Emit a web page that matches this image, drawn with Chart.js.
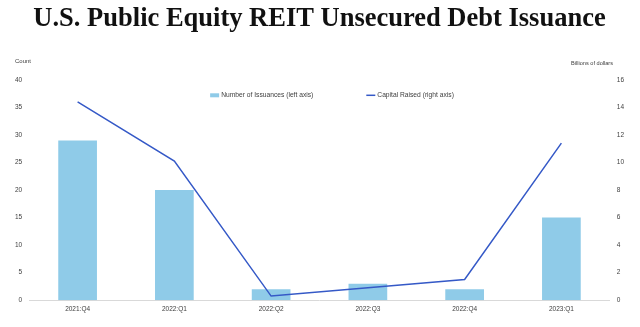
<!DOCTYPE html>
<html>
<head>
<meta charset="utf-8">
<script src="https://cdn.jsdelivr.net/npm/chart.js@4.4.0/dist/chart.umd.min.js"></script>
<style>
  html, body { margin: 0; padding: 0; background: #fff; }
  #wrap { position: relative; width: 640px; height: 327px; }
</style>
</head>
<body>
<div id="wrap"><canvas id="chart" width="640" height="327"></canvas></div>
<script>
// quarterly REIT unsecured debt issuance
const quarters = ['2021:Q4', '2022:Q1', '2022:Q2', '2022:Q3', '2022:Q4', '2023:Q1'];
const issuanceCount = [29, 20, 2, 3, 2, 15];             // left axis, count
const capitalRaised = [14.4, 10.1, 0.3, 0.9, 1.5, 11.4]; // right axis, $ billions
const countTicks = [0, 5, 10, 15, 20, 25, 30, 35, 40];
const dollarTicks = [0, 2, 4, 6, 8, 10, 12, 14, 16];

const sans = "'Liberation Sans', Arial, sans-serif";
const axisFont = { family: sans, size: 6.5 };
const textColor = '#404040';

// unit labels above the y axes plus a single-row legend inside the plot
const chartExtras = {
  id: 'chartExtras',
  afterDraw(chart) {
    const ctx = chart.ctx;
    const area = chart.chartArea;
    ctx.save();
    ctx.fillStyle = textColor;
    ctx.textBaseline = 'middle';

    ctx.font = '6px ' + sans;
    ctx.textAlign = 'left';
    ctx.fillText('Count', 15, area.top - 18);
    ctx.font = '5.6px ' + sans;
    ctx.textAlign = 'right';
    ctx.fillText('Billions of dollars', 613, area.top - 16);

    // legend
    ctx.font = '6.7px ' + sans;
    ctx.textAlign = 'left';
    const sets = chart.data.datasets;
    const swatch = 9, gap = 2, spacing = 53;
    const widths = sets.map(ds => swatch + gap + ctx.measureText(ds.label).width);
    const total = widths.reduce((a, b) => a + b, 0) + spacing * (sets.length - 1);
    let x = chart.width / 2 + 12 - total / 2;
    const y = area.top + 15.5;
    sets.forEach((ds, i) => {
      if (ds.type === 'line') {
        ctx.strokeStyle = ds.borderColor;
        ctx.lineWidth = ds.borderWidth;
        ctx.beginPath();
        ctx.moveTo(x, y);
        ctx.lineTo(x + swatch, y);
        ctx.stroke();
      } else {
        ctx.fillStyle = ds.backgroundColor;
        ctx.fillRect(x, y - 2, swatch, 4);
      }
      ctx.fillStyle = textColor;
      ctx.fillText(ds.label, x + swatch + gap, y);
      x += widths[i] + spacing;
    });
    ctx.restore();
  }
};

new Chart(document.getElementById('chart'), {
  data: {
    labels: quarters,
    datasets: [
      {
        type: 'bar',
        label: 'Number of Issuances (left axis)',
        data: issuanceCount,
        backgroundColor: '#8fcbe8',
        barPercentage: 0.4,
        categoryPercentage: 1,
        yAxisID: 'y',
        order: 2
      },
      {
        type: 'line',
        label: 'Capital Raised (right axis)',
        data: capitalRaised,
        borderColor: '#3559c7',
        backgroundColor: '#3559c7',
        borderWidth: 1.5,
        pointRadius: 0,
        tension: 0,
        yAxisID: 'y1',
        order: 1
      }
    ]
  },
  options: {
    responsive: false,
    animation: false,
    layout: { padding: { top: 0, left: 8, right: 9, bottom: 9 } },
    plugins: {
      title: {
        display: true,
        text: 'U.S. Public Equity REIT Unsecured Debt Issuance',
        color: '#111',
        font: { family: "'Liberation Serif', 'Times New Roman', serif", size: 26.5, weight: 'bold' },
        padding: { top: 3, bottom: 45 }
      },
      legend: { display: false },
      tooltip: { enabled: false }
    },
    scales: {
      x: {
        grid: { display: false, drawTicks: false },
        border: { color: '#d9d9d9', width: 1 },
        ticks: { color: textColor, font: axisFont, padding: 5, maxRotation: 0 }
      },
      y: {
        position: 'left',
        min: 0,
        max: 40,
        afterBuildTicks: s => { s.ticks = countTicks.map(v => ({ value: v })); },
        grid: { display: false, drawTicks: false },
        border: { display: false },
        ticks: { color: textColor, font: axisFont, padding: 7 }
      },
      y1: {
        position: 'right',
        min: 0,
        max: 16,
        afterBuildTicks: s => { s.ticks = dollarTicks.map(v => ({ value: v })); },
        grid: { display: false, drawTicks: false },
        border: { display: false },
        ticks: { color: textColor, font: axisFont, padding: 7 }
      }
    }
  },
  plugins: [chartExtras]
});
</script>
</body>
</html>
